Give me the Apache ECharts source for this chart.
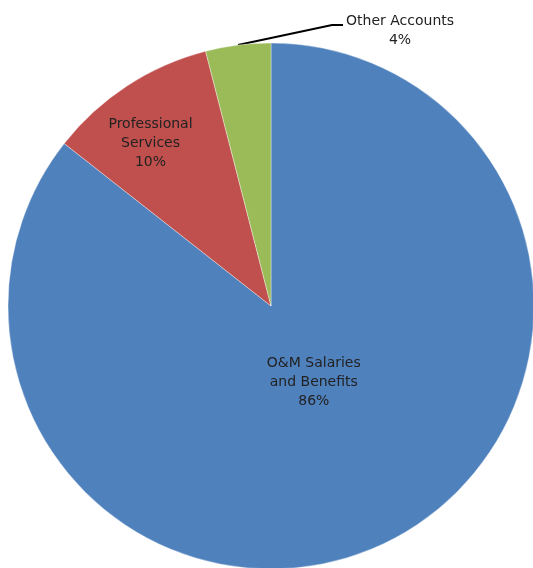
<!DOCTYPE html>
<html>
<head>
<meta charset="utf-8">
<style>
html,body{margin:0;padding:0;background:#fff;}
#chart{width:533px;height:568px;}
</style>
<script src="https://cdn.jsdelivr.net/npm/echarts@6/dist/echarts.min.js"></script>
</head>
<body>
<div id="chart"></div>
<script>
const categories = ['O&M Salaries\nand Benefits', 'Professional\nServices', 'Other Accounts'];
const values = [85.6, 10.4, 4.0];
const colors = ['#4F81BD', '#C0504D', '#9BBB59'];

const chart = echarts.init(document.getElementById('chart'));
const data = categories.map((name, i) => ({
  name: name,
  value: values[i],
  itemStyle: { color: colors[i] },
  label: i === 2 ? { position: 'outside' } : { position: 'inside' },
  labelLine: { show: i === 2 }
}));

chart.setOption({
  animation: false,
  series: [{
    type: 'pie',
    center: [271, 306],
    radius: 263,
    startAngle: 90,
    clockwise: true,
    percentPrecision: 0,
    avoidLabelOverlap: false,
    data: data,
    itemStyle: { borderColor: 'rgba(255,255,255,0.6)', borderWidth: 0.6 },
    label: {
      show: true,
      formatter: '{b}\n{d}%',
      fontFamily: 'DejaVu Sans',
      fontSize: 14,
      lineHeight: 19,
      color: '#222',
      align: 'center'
    },
    labelLine: {
      show: true,
      lineStyle: { color: '#000', width: 2 }
    },
    labelLayout: function (params) {
      if (params.dataIndex === 0) return { dx: -16, dy: -45 };
      if (params.dataIndex === 1) return { dx: -47, dy: -50 };
      const pts = params.labelLinePoints;
      if (!pts) return {};
      const p0 = pts[0];
      const p1 = [p0[0] + 94, p0[1] - 20];
      const p2 = [p1[0] + 11, p1[1]];
      return {
        x: p2[0] + 3 + params.labelRect.width / 2,
        y: p2[1] + 6,
        align: 'center',
        verticalAlign: 'middle',
        labelLinePoints: [p0, p1, p2]
      };
    }
  }]
});
</script>
</body>
</html>
